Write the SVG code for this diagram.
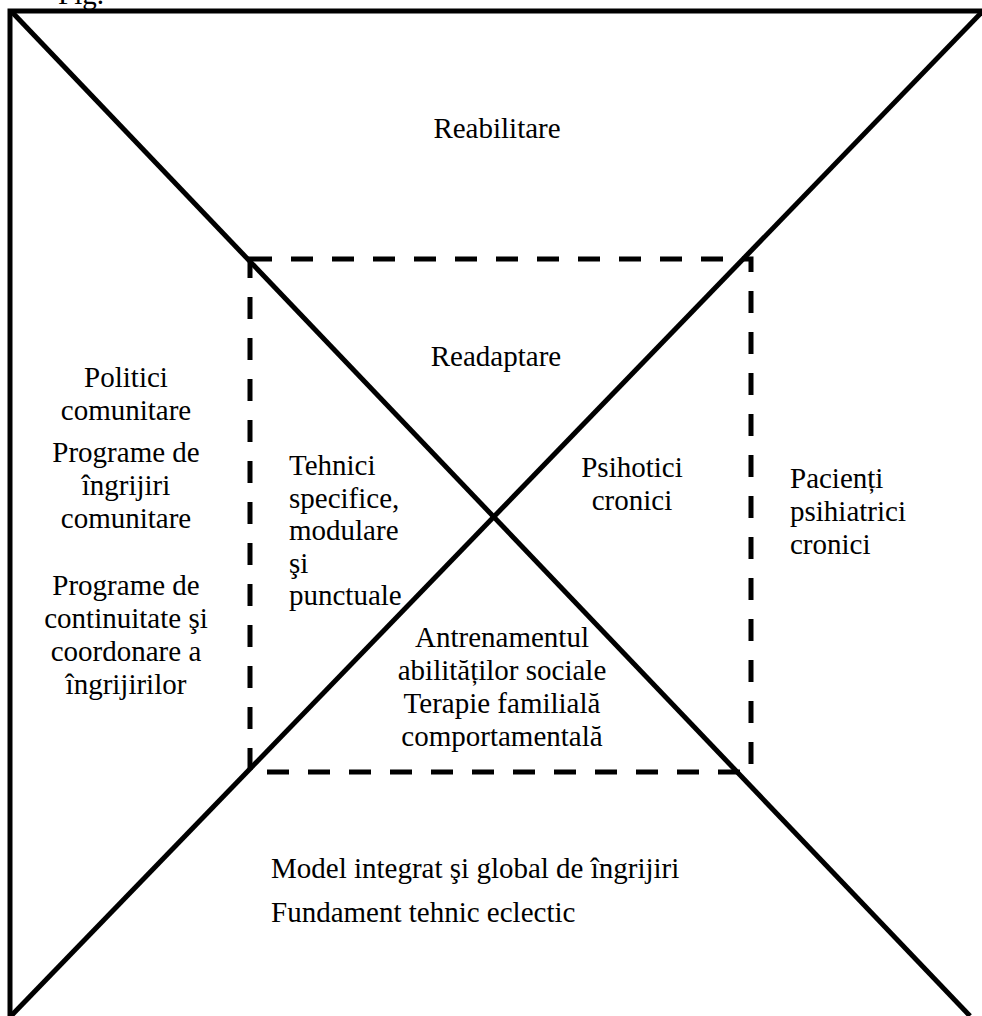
<svg xmlns="http://www.w3.org/2000/svg" width="982" height="1016" viewBox="0 0 982 1016">
<style>
.ln{stroke:#000;stroke-width:5;fill:none}
.dash{stroke:#000;stroke-width:5;fill:none;stroke-dasharray:22 19}
text{font-family:"Liberation Serif","Times New Roman",serif;font-size:29px;fill:#000}
.c{text-anchor:middle}
</style>
<rect width="982" height="1016" fill="#fff"/>
<text x="58" y="4">Fig.</text>
<g id="connectors">
<polyline class="ln" points="10,1016 10,11 982,11"/>
<line class="ln" x1="11" y1="11" x2="970" y2="1016"/>
<line class="ln" x1="982" y1="12" x2="11" y2="1016"/>
<rect class="dash" x="250" y="259" width="501" height="513"/>
</g>
<g id="top"><text class="c" x="497" y="138">Reabilitare</text></g>
<g id="inner-top"><text class="c" x="496" y="366">Readaptare</text></g>
<g id="left">
<text class="c" x="126" y="387">Politici</text>
<text class="c" x="126" y="420">comunitare</text>
<text class="c" x="126" y="462">Programe de</text>
<text class="c" x="126" y="495">îngrijiri</text>
<text class="c" x="126" y="528">comunitare</text>
<text class="c" x="126" y="595">Programe de</text>
<text class="c" x="126" y="628">continuitate şi</text>
<text class="c" x="126" y="661">coordonare a</text>
<text class="c" x="126" y="694">îngrijirilor</text>
</g>
<g id="inner-left">
<text x="289" y="475">Tehnici</text>
<text x="289" y="508">specifice,</text>
<text x="289" y="540">modulare</text>
<text x="289" y="573">şi</text>
<text x="289" y="605">punctuale</text>
</g>
<g id="inner-right">
<text class="c" x="632" y="477">Psihotici</text>
<text class="c" x="632" y="510">cronici</text>
</g>
<g id="right">
<text x="790" y="488">Pacienți</text>
<text x="790" y="521">psihiatrici</text>
<text x="790" y="554">cronici</text>
</g>
<g id="inner-bottom">
<text class="c" x="502" y="647">Antrenamentul</text>
<text class="c" x="502" y="680">abilităților sociale</text>
<text class="c" x="502" y="713">Terapie familială</text>
<text class="c" x="502" y="746">comportamentală</text>
</g>
<g id="bottom">
<text x="271" y="878">Model integrat şi global de îngrijiri</text>
<text x="271" y="922">Fundament tehnic eclectic</text>
</g>
</svg>
